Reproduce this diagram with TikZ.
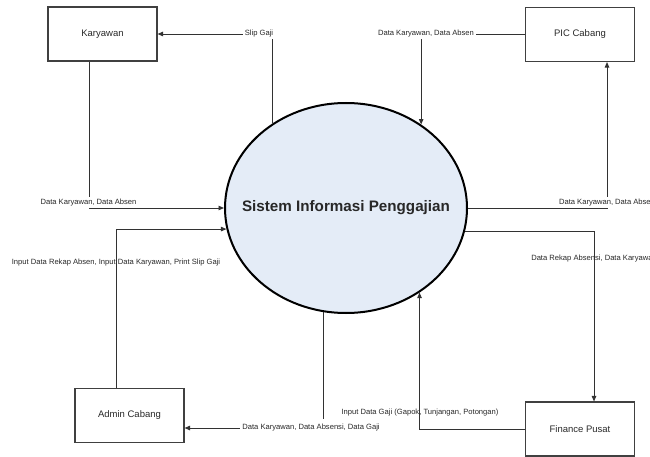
\documentclass[tikz,border=0pt]{standalone}
\usepackage{fontspec}
\setmainfont{Liberation Sans}
\usetikzlibrary{shapes.geometric,arrows.meta}
\definecolor{procfill}{RGB}{228,236,247}
\definecolor{linegray}{RGB}{50,50,50}
\definecolor{boxgray}{RGB}{64,64,64}
\definecolor{txtgray}{RGB}{40,40,40}
\tikzset{
  entity/.style={draw=boxgray, line width=1.1pt, minimum width=109pt, minimum height=54pt, inner sep=0pt, font=\fontsize{9.5}{11}\selectfont, text=txtgray},
  process/.style={ellipse, draw=black, line width=2pt, fill=procfill, minimum width=242pt, minimum height=210pt, inner sep=0pt},
  proctitle/.style={font=\fontsize{15.2}{17}\selectfont\bfseries, text=txtgray, inner sep=0pt},
  flow/.style={draw=linegray, line width=0.9pt, -{Triangle[length=5.5pt,width=4.5pt]}},
  flowlbl/.style={font=\fontsize{7.6}{9}\selectfont, text=txtgray, inner sep=1pt},
  cornerlbl/.style={flowlbl, fill=white, inner xsep=2pt, inner ysep=1.5pt}
}
\begin{document}
\begin{tikzpicture}[x=1pt,y=-1pt]
\useasboundingbox (0,0) rectangle (650,457);
\node[process] (sys) at (346,208) {};
\node[proctitle] (systitle) at (sys.center) {Sistem Informasi Penggajian};
\node[entity] (kary) at (102.5,34) {Karyawan};
\node[entity] (pic) at (580,34.5) {PIC Cabang};
\node[entity] (adm) at (129.5,415.5) {Admin Cabang};
\node[entity] (fin) at (580,429) {Finance Pusat};

% Slip Gaji
\draw[flow] (sys.131.1) -- (sys.131.1 |- kary.east) -- (kary.east);
\node[cornerlbl, minimum width=30pt] (l1) at (259,33.5) {Slip Gaji};
% PIC -> sys
\draw[flow] (pic.west) -- (pic.west -| sys.48.3) -- (sys.48.3);
\node[cornerlbl] (l2) at (426,33.5) {Data Karyawan, Data Absen};
% Karyawan -> sys
\draw[flow] ([xshift=-13.5pt]kary.south) |- (sys.west);
\node[cornerlbl] (l3) at (88.5,202.5) {Data Karyawan, Data Absen};
% Admin -> sys
\draw[flow] ([xshift=-13.5pt]adm.north) |- (sys.190.5);
\node[flowlbl] (l4) at (116,263) {Input Data Rekap Absen, Input Data Karyawan, Print Slip Gaji};
% sys -> PIC
\draw[flow] (sys.east) -| ([xshift=27pt]pic.south);
\node[cornerlbl] (l5) at (607,202.5) {Data Karyawan, Data Absen};
% sys -> Finance
\draw[flow] (sys.349.5) -| ([xshift=14pt]fin.north);
\node[flowlbl] (l6) at (594,259) {Data Rekap Absensi, Data Karyawan};
% Finance -> sys
\draw[flow] (fin.west) -| (sys.311.7);
\node[flowlbl] (l7) at (420,413) {Input Data Gaji (Gapok, Tunjangan, Potongan)};
% sys -> Admin
\draw[flow] (sys.258.5) |- ([yshift=-12.5pt]adm.east);
\node[cornerlbl, minimum height=19pt] (l8) at (311,428) {Data Karyawan, Data Absensi, Data Gaji};
\end{tikzpicture}
\end{document}
